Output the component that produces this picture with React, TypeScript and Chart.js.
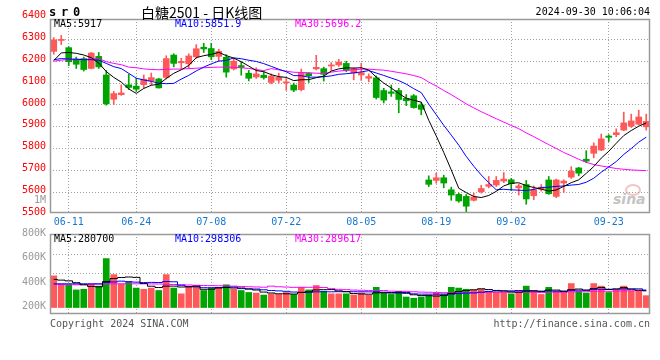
import React, { useEffect, useRef } from 'react';
import { Chart, registerables } from 'chart.js';
Chart.register(...registerables);

const MONO = '"DejaVu Sans Mono", "Liberation Mono", monospace';

const dates = [
  '06-06','06-07','06-11','06-12','06-13','06-14','06-17','06-18','06-19','06-20','06-21','06-24','06-25','06-26','06-27','06-28',
  '07-01','07-02','07-03','07-04','07-05','07-08','07-09','07-10','07-11','07-12','07-15','07-16','07-17','07-18','07-19','07-22','07-23','07-24','07-25','07-26','07-29','07-30','07-31',
  '08-01','08-02','08-05','08-06','08-07','08-08','08-09','08-12','08-13','08-14','08-15','08-16','08-19','08-20','08-21','08-22','08-23','08-26','08-27','08-28','08-29','08-30',
  '09-02','09-03','09-04','09-05','09-06','09-09','09-10','09-11','09-12','09-13','09-18','09-19','09-20','09-23','09-24','09-25','09-26','09-27','09-30',
];
const tickDates = ['06-11','06-24','07-08','07-22','08-05','08-19','09-02','09-23'];

const opens = [
  6245,6295,6262,6210,6212,6167,6222,6137,6026,6047,6092,6086,6093,6110,6119,6126,
  6228,6193,6188,6220,6264,6258,6222,6218,6165,6180,6145,6128,6136,6103,6113,6101,6091,6070,6144,6165,6166,6178,6183,
  6190,6146,6137,6122,6124,6066,6060,6066,6030,6042,6000,5657,5655,5667,5612,5591,5582,5564,5603,5628,5634,5652,
  5658,5621,5636,5585,5615,5657,5582,5643,5670,5712,5752,5779,5794,5858,5864,5885,5903,5912,5900,
];
const highs = [
  6308,6318,6266,6219,6219,6240,6240,6158,6062,6092,6140,6122,6137,6146,6122,6225,
  6234,6213,6234,6276,6282,6282,6255,6230,6212,6197,6158,6170,6152,6142,6145,6121,6100,6164,6148,6227,6173,6194,6209,
  6200,6170,6191,6142,6133,6076,6091,6076,6048,6048,6012,5676,5688,5679,5624,5597,5591,5597,5633,5673,5673,5691,
  5664,5639,5655,5630,5636,5673,5661,5658,5718,5715,5791,5827,5867,5864,5891,5967,5958,5976,5958,
];
const lows = [
  6232,6276,6180,6167,6155,6165,6167,5999,6002,6044,6071,6062,6077,6092,6077,6119,
  6174,6167,6167,6213,6240,6207,6200,6127,6160,6136,6110,6121,6118,6097,6100,6067,6061,6064,6103,6160,6109,6158,6176,
  6152,6115,6112,6106,6027,6009,6039,5964,5997,5985,5955,5627,5642,5621,5564,5555,5509,5561,5597,5621,5627,5645,
  5609,5588,5546,5567,5606,5591,5576,5600,5664,5676,5736,5758,5791,5833,5855,5882,5897,5909,5885,
];
const closes = [
  6298,6298,6198,6186,6162,6237,6174,6005,6052,6055,6080,6072,6118,6125,6078,6212,
  6190,6199,6224,6257,6256,6220,6245,6150,6200,6172,6122,6142,6125,6132,6126,6105,6068,6145,6134,6172,6140,6183,6196,
  6158,6166,6148,6130,6034,6022,6053,6025,6019,5988,5980,5637,5667,5643,5588,5561,5537,5579,5618,5636,5655,5661,
  5640,5630,5570,5612,5624,5594,5657,5652,5697,5688,5743,5812,5845,5852,5873,5918,5927,5945,5925,
];
const volumes = [
  459000,391000,386000,344000,349000,391000,375000,600000,469000,391000,
  412000,359000,349000,359000,339000,469000,359000,312000,365000,370000,
  339000,359000,365000,386000,349000,339000,323000,318000,302000,312000,
  307000,323000,307000,365000,344000,380000,333000,312000,312000,312000,
  302000,318000,302000,365000,318000,307000,333000,286000,276000,286000,
  302000,318000,307000,365000,359000,349000,344000,349000,333000,323000,
  323000,312000,333000,375000,333000,307000,365000,333000,328000,396000,
  333000,318000,396000,375000,323000,344000,375000,333000,333000,297000,
];

const ma5Head = [6203, 6238, 6240, 6236];
const ma10Head = [6207, 6212, 6210, 6209, 6207, 6207, 6205, 6190, 6175];
const ma30Head = [6200, 6205, 6207, 6207, 6207, 6210, 6212, 6198, 6190, 6184, 6173, 6170, 6165, 6162, 6161, 6163, 6164, 6164, 6166, 6168, 6170, 6172, 6173, 6173, 6172, 6170, 6167, 6162, 6157];
const vma5Head = [430000, 424000, 418000, 403000];
const vma10Head = [394000, 394000, 394000, 394000, 394000, 394000, 394000, 405000, 409000];
const vma30Head = [388000,387000,386000,386000,387000,389000,391000,393000,394000,394000,394000,394000,394000,393000,392000,390000,388000,386000,384000,382000,380000,379000,378000,377000,375000,372000,370000,368000,366000];

const priceTicks = [5500, 5600, 5700, 5800, 5900, 6000, 6100, 6200, 6300, 6400];
const volTicks = [200000, 400000, 600000, 800000];
const volGrid = [476000, 635000];

const RED = '#ff5858';
const GREEN = '#00a400';
const GRID = '#a0a0a0';

function movingAvg(vals: number[], n: number, head: number[]) {
  return vals.map((_, i) => {
    if (i < n - 1) return head[i];
    let s = 0;
    for (let k = i - n + 1; k <= i; k++) s += vals[k];
    return s / n;
  });
}

const framePlugin = {
  id: 'frame',
  afterDraw(chart: any) {
    const { left, top, right, bottom } = chart.chartArea;
    const ctx = chart.ctx;
    ctx.save();
    ctx.strokeStyle = '#9a9a9a';
    ctx.lineWidth = 1.5;
    ctx.strokeRect(Math.round(left) + 0.5, Math.round(top) + 0.5, Math.round(right - left) - 1, Math.round(bottom - top) - 1);
    ctx.restore();
  },
};

function Txt(props: any) {
  const { x, y, children, color = '#000', size = 10, align = 'left', family = MONO, weight = 'normal', extra = {} } = props;
  const style: any = {
    position: 'absolute',
    top: y - 7,
    height: 14,
    lineHeight: '14px',
    fontSize: size,
    color,
    fontFamily: family,
    fontWeight: weight,
    whiteSpace: 'nowrap',
    ...extra,
  };
  if (align === 'left') style.left = x;
  else style.right = 660 - x;
  return <div style={style}>{children}</div>;
}

export default function App() {
  const mainRef = useRef<HTMLCanvasElement>(null);
  const volRef = useRef<HTMLCanvasElement>(null);

  useEffect(() => {
    const colors = closes.map((c, i) => (c >= opens[i] ? RED : GREEN));
    const bodies = closes.map((c, i) => [Math.min(opens[i], c), Math.max(opens[i], c)]);
    const wicks = highs.map((h, i) => [lows[i], h]);
    const ma5 = movingAvg(closes, 5, ma5Head);
    const ma10 = movingAvg(closes, 10, ma10Head);
    const ma30 = movingAvg(closes, 30, ma30Head);
    const vma5 = movingAvg(volumes, 5, vma5Head);
    const vma10 = movingAvg(volumes, 10, vma10Head);
    const vma30 = movingAvg(volumes, 30, vma30Head);
    const volBars = volumes.map((v) => [200000, v]);

    const xGridColor = (ctx: any) => (tickDates.includes(dates[ctx.index]) ? GRID : 'rgba(0,0,0,0)');

    const main = new Chart(mainRef.current as HTMLCanvasElement, {
      type: 'bar',
      data: {
        labels: dates,
        datasets: [
          { type: 'line', data: ma5, borderColor: '#000', borderWidth: 1, pointRadius: 0, order: 0 } as any,
          { type: 'line', data: ma10, borderColor: '#0000ff', borderWidth: 1, pointRadius: 0, order: 0 } as any,
          { type: 'line', data: ma30, borderColor: '#ff00ff', borderWidth: 1, pointRadius: 0, order: 0 } as any,
          { type: 'bar', data: bodies, backgroundColor: colors, barThickness: 6, grouped: false, minBarLength: 1, order: 2 } as any,
          { type: 'bar', data: wicks, backgroundColor: colors, barThickness: 1, grouped: false, minBarLength: 1, order: 3 } as any,
        ],
      },
      options: {
        animation: false,
        responsive: false,
        maintainAspectRatio: false,
        layout: { padding: { top: 19, right: 10, left: 0, bottom: 0 } },
        plugins: { legend: { display: false }, tooltip: { enabled: false } },
        scales: {
          x: {
            offset: true,
            grid: { offset: false, color: xGridColor, drawTicks: false },
            border: { display: false, dash: [1, 2] },
            ticks: {
              autoSkip: false,
              maxRotation: 0,
              padding: 3,
              color: '#1878d0',
              font: { family: MONO, size: 10 },
              callback: (_v: any, i: number) => (tickDates.includes(dates[i]) ? dates[i] : ''),
            },
            afterFit: (a: any) => { a.height = 19; },
          },
          y: {
            min: 5506,
            max: 6393,
            afterBuildTicks: (a: any) => { a.ticks = priceTicks.map((v) => ({ value: v })); },
            grid: {
              drawTicks: false,
              color: (ctx: any) => (ctx.tick && (ctx.tick.value > 6393 || ctx.tick.value < 5506) ? 'rgba(0,0,0,0)' : GRID),
            },
            border: { display: false, dash: [1, 2] },
            ticks: { color: '#f00', padding: 4, labelOffset: -2, font: { family: MONO, size: 10 }, callback: (v: any) => String(v) },
            afterFit: (a: any) => { a.width = 50; },
          },
        },
      } as any,
      plugins: [framePlugin],
    });

    const vol = new Chart(volRef.current as HTMLCanvasElement, {
      type: 'bar',
      data: {
        labels: dates,
        datasets: [
          { type: 'line', data: vma5, borderColor: '#000', borderWidth: 1, pointRadius: 0, stepped: 'middle', order: 0 } as any,
          { type: 'line', data: vma10, borderColor: '#0000ff', borderWidth: 1, pointRadius: 0, stepped: 'middle', order: 0 } as any,
          { type: 'line', data: vma30, borderColor: '#ff00ff', borderWidth: 1, pointRadius: 0, stepped: 'middle', order: 0 } as any,
          { type: 'bar', data: volBars, backgroundColor: colors, barThickness: 6, grouped: false, order: 2 } as any,
        ],
      },
      options: {
        animation: false,
        responsive: false,
        maintainAspectRatio: false,
        layout: { padding: { top: 10, right: 10, left: 0, bottom: 6 } },
        plugins: { legend: { display: false }, tooltip: { enabled: false } },
        scales: {
          x: {
            offset: true,
            grid: { offset: false, color: xGridColor, drawTicks: false },
            border: { display: false, dash: [1, 2] },
            ticks: { display: false, autoSkip: false },
            afterFit: (a: any) => { a.height = 0; },
          },
          y: {
            min: 147000,
            max: 801000,
            afterBuildTicks: (a: any) => { a.ticks = volTicks.map((v) => ({ value: v })); },
            grid: { display: false, drawTicks: false },
            border: { display: false },
            ticks: { color: '#999', padding: 4, labelOffset: -1, font: { family: MONO, size: 10 }, callback: (v: any) => v / 1000 + 'K' },
            afterFit: (a: any) => { a.width = 50; },
          },
          yg: {
            position: 'right',
            min: 147000,
            max: 801000,
            afterBuildTicks: (a: any) => { a.ticks = volGrid.map((v) => ({ value: v })); },
            grid: { color: GRID, drawTicks: false },
            border: { display: false, dash: [1, 2] },
            ticks: { display: false },
            afterFit: (a: any) => { a.width = 0; },
          },
        },
      } as any,
      plugins: [framePlugin],
    });

    return () => {
      main.destroy();
      vol.destroy();
    };
  }, []);

  return (
    <div style={{ position: 'absolute', left: 0, top: 0, width: 660, height: 360, background: '#fff', overflow: 'hidden' }}>
      <Txt x={613} y={199} color="#c4c4c4" size={14} weight="bold" family='"DejaVu Sans", sans-serif' extra={{ fontStyle: 'italic' }}>sina</Txt>
      <div style={{ position: 'absolute', left: 625, top: 184, width: 12, height: 8, borderRadius: '50%', border: '2px solid #f4c4c4' }} />
      <canvas ref={mainRef} width={660} height={232} style={{ position: 'absolute', left: 0, top: 0, width: 660, height: 232 }} />
      <canvas ref={volRef} width={660} height={100} style={{ position: 'absolute', left: 0, top: 224, width: 660, height: 100 }} />
      <Txt x={49} y={12} size={12} weight="bold" extra={{ letterSpacing: '-1.2px' }}>s r 0</Txt>
      <Txt x={141} y={12} size={14} family='"Noto Sans CJK SC", sans-serif'>白糖2501 - 日K线图</Txt>
      <Txt x={650} y={12} align="right">2024-09-30 10:06:04</Txt>
      <Txt x={54} y={24}>MA5:5917</Txt>
      <Txt x={175} y={24} color="#0000ff">MA10:5851.9</Txt>
      <Txt x={295} y={24} color="#ff00ff">MA30:5696.2</Txt>
      <Txt x={46} y={200} align="right" color="#999">1M</Txt>
      <Txt x={54} y={239}>MA5:280700</Txt>
      <Txt x={175} y={239} color="#0000ff">MA10:298306</Txt>
      <Txt x={295} y={239} color="#ff00ff">MA30:289617</Txt>
      <Txt x={50} y={324} color="#555">Copyright 2024 SINA.COM</Txt>
      <Txt x={650} y={324} align="right" color="#555">http://finance.sina.com.cn</Txt>
    </div>
  );
}
